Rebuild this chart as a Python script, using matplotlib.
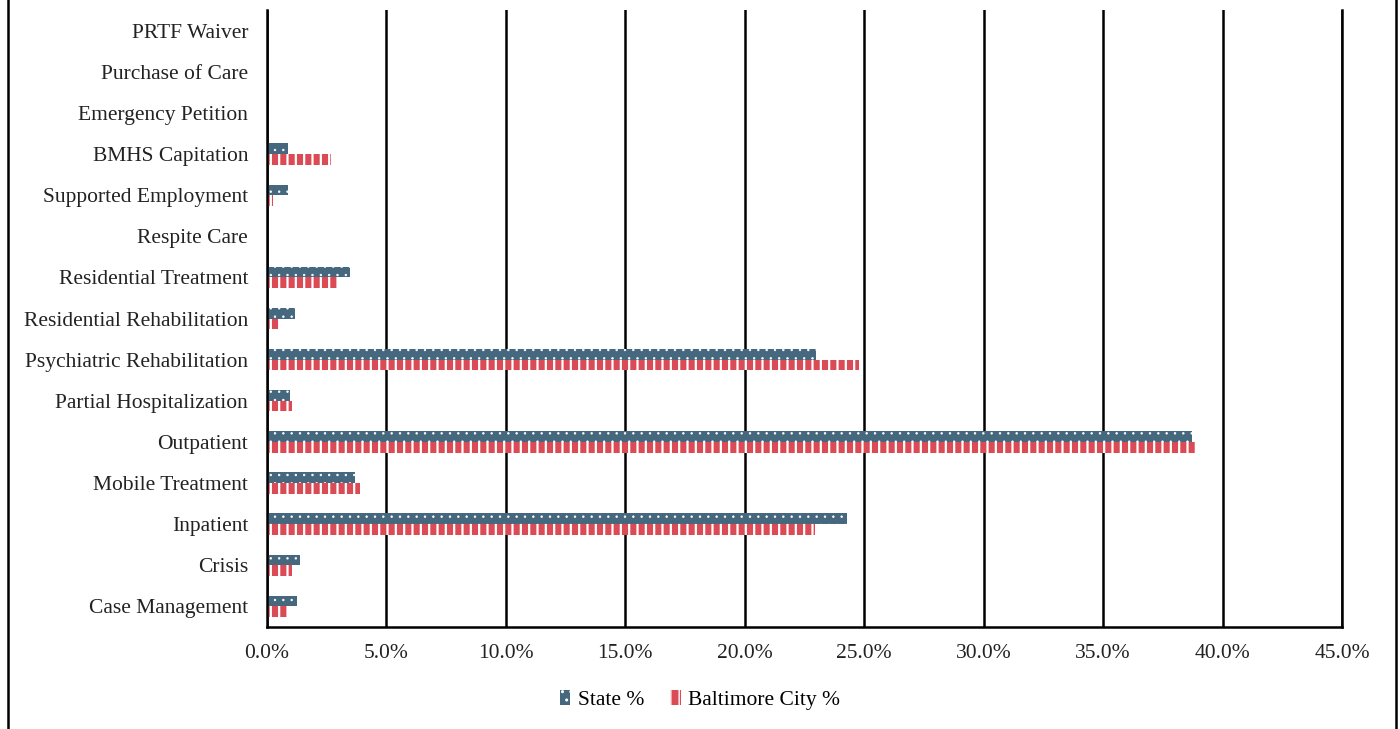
import matplotlib as mpl
import matplotlib.pyplot as plt
from matplotlib.lines import Line2D
from matplotlib.patches import Patch
import numpy as np

plt.rcParams['font.family'] = ['Liberation Serif', 'DejaVu Serif']

categories = ['Case Management', 'Crisis', 'Inpatient', 'Mobile Treatment', 'Outpatient',
              'Partial Hospitalization', 'Psychiatric Rehabilitation', 'Residential Rehabilitation',
              'Residential Treatment', 'Respite Care', 'Supported Employment', 'BMHS Capitation',
              'Emergency Petition', 'Purchase of Care', 'PRTF Waiver']
state_pct = [1.26, 1.38, 24.27, 3.68, 38.70, 0.96, 22.97, 1.17, 3.47, 0.05, 0.88, 0.88, 0, 0, 0]
city_pct = [0.84, 1.05, 22.93, 3.89, 38.90, 1.05, 24.77, 0.54, 2.97, 0.02, 0.25, 2.68, 0, 0, 0]

state_col = '#46687F'
city_col = '#DA4B55'

fig = plt.figure(figsize=(14, 7.29), dpi=100)
ax = fig.add_axes([0.1907, 0.140, 0.7679, 0.846])

y = np.arange(len(categories))
h = 0.26
with mpl.rc_context({'hatch.linewidth': 0.5}):
    ax.barh(y + h / 2, state_pct, height=h, color=state_col, edgecolor='white',
            hatch='..', linewidth=0, label='State %', zorder=3)
    h_state = Patch(facecolor=state_col, edgecolor='white', hatch='..', linewidth=0)
with mpl.rc_context({'hatch.linewidth': 1.6}):
    ax.barh(y - h / 2, city_pct, height=h, color=city_col, edgecolor='white',
            hatch='||', linewidth=0, label='Baltimore City %', zorder=3)
    h_city = Patch(facecolor=city_col, edgecolor='white', hatch='||', linewidth=0)

ax.set_xlim(0, 45)
ax.set_ylim(-0.5, len(categories) - 0.5)
ax.set_xticks(np.arange(0, 46, 5))
ax.set_xticklabels(['%.1f%%' % v for v in np.arange(0, 46, 5)])
ax.set_yticks(y)
ax.set_yticklabels(categories)
ax.tick_params(length=0, labelsize=15.5, colors='#222222')
ax.tick_params(axis='y', pad=13.5)
ax.tick_params(axis='x', pad=12)
ax.grid(axis='x', color='black', linewidth=1.8, zorder=0)
ax.spines['top'].set_visible(False)
for s in ['left', 'right', 'bottom']:
    ax.spines[s].set_linewidth(1.8)
    ax.spines[s].set_zorder(4)

fig.legend([h_state, h_city], ['State %', 'Baltimore City %'], loc='center',
           bbox_to_anchor=(0.5, 0.04), ncol=2, frameon=False, fontsize=15.5,
           handlelength=0.5, handleheight=0.7, handletextpad=0.35, columnspacing=1.2)

# outer frame lines
fig.add_artist(Line2D([0.0055, 0.0055], [0, 1], color='black', linewidth=1.8))
fig.add_artist(Line2D([0.997, 0.997], [0, 1], color='black', linewidth=1.8))

plt.savefig('out.png', dpi=100)
